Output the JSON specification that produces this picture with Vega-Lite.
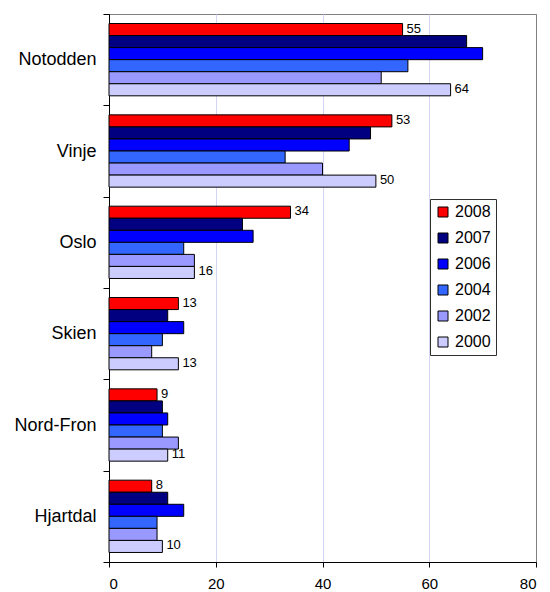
{
  "$schema": "https://vega.github.io/schema/vega-lite/v6.json",
  "width": 427,
  "height": 548,
  "autosize": {"type": "none"},
  "padding": {"left": 109, "top": 14, "right": 14, "bottom": 30},
  "background": "white",
  "config": {
    "font": "Liberation Sans",
    "view": {"stroke": "#808080", "strokeWidth": 1},
    "axis": {"domainColor": "black", "tickColor": "black", "labelColor": "black", "titleColor": "black"},
    "legend": {"labelColor": "black"}
  },
  "data": {
    "values": [
      {"town": "Notodden", "year": "2008", "value": 55},
      {"town": "Notodden", "year": "2007", "value": 67},
      {"town": "Notodden", "year": "2006", "value": 70},
      {"town": "Notodden", "year": "2004", "value": 56},
      {"town": "Notodden", "year": "2002", "value": 51},
      {"town": "Notodden", "year": "2000", "value": 64},
      {"town": "Vinje", "year": "2008", "value": 53},
      {"town": "Vinje", "year": "2007", "value": 49},
      {"town": "Vinje", "year": "2006", "value": 45},
      {"town": "Vinje", "year": "2004", "value": 33},
      {"town": "Vinje", "year": "2002", "value": 40},
      {"town": "Vinje", "year": "2000", "value": 50},
      {"town": "Oslo", "year": "2008", "value": 34},
      {"town": "Oslo", "year": "2007", "value": 25},
      {"town": "Oslo", "year": "2006", "value": 27},
      {"town": "Oslo", "year": "2004", "value": 14},
      {"town": "Oslo", "year": "2002", "value": 16},
      {"town": "Oslo", "year": "2000", "value": 16},
      {"town": "Skien", "year": "2008", "value": 13},
      {"town": "Skien", "year": "2007", "value": 11},
      {"town": "Skien", "year": "2006", "value": 14},
      {"town": "Skien", "year": "2004", "value": 10},
      {"town": "Skien", "year": "2002", "value": 8},
      {"town": "Skien", "year": "2000", "value": 13},
      {"town": "Nord-Fron", "year": "2008", "value": 9},
      {"town": "Nord-Fron", "year": "2007", "value": 10},
      {"town": "Nord-Fron", "year": "2006", "value": 11},
      {"town": "Nord-Fron", "year": "2004", "value": 10},
      {"town": "Nord-Fron", "year": "2002", "value": 13},
      {"town": "Nord-Fron", "year": "2000", "value": 11},
      {"town": "Hjartdal", "year": "2008", "value": 8},
      {"town": "Hjartdal", "year": "2007", "value": 11},
      {"town": "Hjartdal", "year": "2006", "value": 14},
      {"town": "Hjartdal", "year": "2004", "value": 9},
      {"town": "Hjartdal", "year": "2002", "value": 9},
      {"town": "Hjartdal", "year": "2000", "value": 10}
    ]
  },
  "encoding": {
    "y": {
      "field": "town", "type": "nominal",
      "sort": ["Notodden", "Vinje", "Oslo", "Skien", "Nord-Fron", "Hjartdal"],
      "scale": {"paddingInner": 0, "paddingOuter": 0},
      "axis": {"title": null, "tickBand": "extent", "tickSize": 6, "labelPadding": 7, "labelFontSize": 18, "grid": false, "domainColor": "black"}
    },
    "yOffset": {
      "field": "year", "type": "nominal",
      "scale": {"domain": ["2008", "2007", "2006", "2004", "2002", "2000"], "paddingInner": 0, "paddingOuter": 0.79}
    },
    "x": {
      "field": "value", "type": "quantitative",
      "scale": {"domain": [0, 80], "nice": false},
      "axis": {
        "title": null, "values": [0, 20, 40, 60, 80], "tickSize": 5, "labelPadding": 9, "labelFontSize": 15,
        "grid": true,
        "gridColor": {"condition": {"test": "datum.value === 80 || datum.value === 0", "value": "#808080"}, "value": "#D4D4F6"}
      }
    }
  },
  "layer": [
    {
      "mark": {"type": "bar", "stroke": "black", "strokeWidth": 1},
      "encoding": {
        "color": {
          "field": "year", "type": "nominal",
          "scale": {"domain": ["2008", "2007", "2006", "2004", "2002", "2000"], "range": ["#FF0000", "#000080", "#0000FF", "#3366FF", "#9999FF", "#CCCCFF"]},
          "legend": {
            "title": null, "orient": "none", "legendX": 321, "legendY": 185,
            "padding": 5, "strokeColor": "#303030", "fillColor": "white",
            "symbolType": "square", "symbolSize": 100, "symbolStrokeColor": "black", "symbolStrokeWidth": 1, "symbolOpacity": 1,
            "labelFontSize": 16, "rowPadding": 10, "labelOffset": 4
          }
        }
      }
    },
    {
      "transform": [{"filter": "datum.year === '2008' || datum.year === '2000'"}],
      "mark": {"type": "text", "align": "left", "baseline": "middle", "dx": 4, "dy": -1, "fontSize": 13, "color": "black"},
      "encoding": {"text": {"field": "value", "type": "quantitative"}}
    }
  ]
}
